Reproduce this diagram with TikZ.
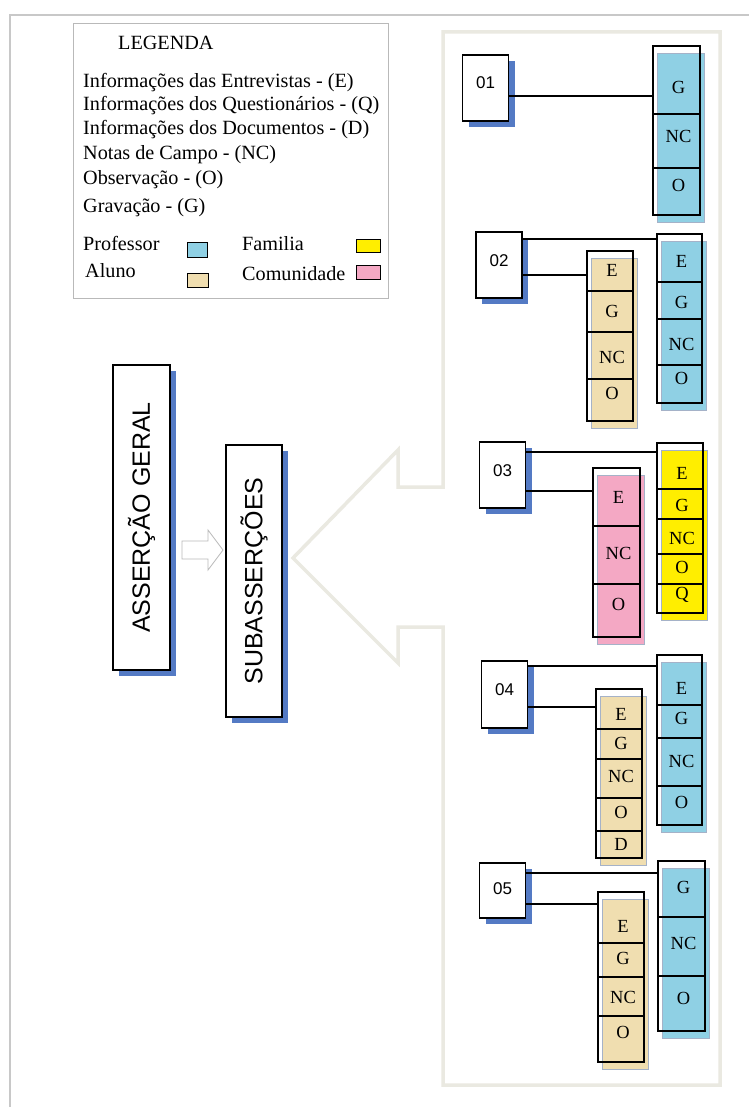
\documentclass[tikz,border=0pt]{standalone}
\usepackage{fontspec}
\setmainfont{Liberation Serif}
\setsansfont{Liberation Sans}
\usetikzlibrary{shadows}
\definecolor{colblue}{RGB}{143,208,228}
\definecolor{colbeige}{RGB}{240,222,176}
\definecolor{colyellow}{RGB}{255,238,0}
\definecolor{colpink}{RGB}{244,168,196}
\definecolor{fillborder}{RGB}{165,178,200}
\definecolor{shadowblue}{RGB}{84,122,196}
\definecolor{framegray}{RGB}{234,233,225}
\definecolor{pagegray}{RGB}{200,200,200}
\definecolor{legendgray}{RGB}{185,185,185}
\definecolor{arrowgray}{RGB}{185,185,185}
\newcommand\colbox[6]{%
  \fill[#6, draw=fillborder, line width=0.8pt] ({#2+4},{#3+7}) rectangle ({#4+4},{#5+7});
  \node[colframe, anchor=north west, minimum width={(#4-#2)*1pt}, minimum height={(#5-#3)*1pt}] (#1) at (#2,#3) {};
}
\begin{document}
\begin{tikzpicture}[x=1pt,y=-1pt,
  colframe/.style={draw=black, line width=1.2pt, inner sep=0pt, outer sep=0pt},
  divider/.style={draw=black, line width=1.2pt},
  lbl/.style={font=\fontsize{18.5}{20}\selectfont, inner sep=0pt, xshift=2pt},
  conn/.style={draw=black, line width=1.2pt},
  shad/.style={drop shadow={shadow xshift=6pt, shadow yshift=-6pt, fill=shadowblue, opacity=1}},
  numbox/.style={draw=black, fill=white, line width=1.1pt, minimum width=46pt, minimum height=66pt,
     inner sep=0pt, outer sep=0pt, font=\sffamily\fontsize{17}{19}\selectfont, text height=12pt, text depth=10pt, shad},
  bigbox/.style={draw=black, fill=white, line width=1.1pt, inner sep=0pt, outer sep=0pt,
     font=\sffamily\fontsize{25}{28}\selectfont, shad},
  legtext/.style={anchor=base west, inner sep=0pt, font=\fontsize{20.2}{23}\selectfont},
  swatch/.style={draw=black, line width=0.9pt, inner sep=0pt, anchor=north west}
]
\useasboundingbox (0,0) rectangle (749,1107);
\fill[white] (0,0) rectangle (749,1107);
% page frame
\draw[pagegray, line width=2.5pt] (10,1107) -- (10,15) -- (749,15);
% big container with arrow
\draw[framegray, line width=3.5pt, line join=miter]
  (443,32) -- (720,32) -- (720,1085) -- (443,1085) -- (443,627) -- (398,627) -- (398,663)
  -- (293,558) -- (398,450) -- (398,487) -- (443,487) -- cycle;
% legend
\node[draw=legendgray, line width=0.8pt, anchor=north west, minimum width=315pt, minimum height=275pt, inner sep=0pt] (leg) at (73,23) {};
\node[legtext] (legt) at (118,49.5) {LEGENDA};
\node[legtext] (lg1) at (83,87.5) {Informações das Entrevistas - (E)};
\node[legtext] (lg2) at (83,110.5) {Informações dos Questionários - (Q)};
\node[legtext] (lg3) at (83,134.5) {Informações dos Documentos - (D)};
\node[legtext] (lg4) at (83,159.5) {Notas de Campo - (NC)};
\node[legtext] (lg5) at (83,184.5) {Observação - (O)};
\node[legtext] (lg6) at (83,212.5) {Gravação - (G)};
\node[legtext] (lgp) at (83,250.5) {Professor};
\node[legtext] (lga) at (85,277.5) {Aluno};
\node[legtext] (lgf) at (242,250.5) {Familia};
\node[legtext] (lgc) at (242,280.5) {Comunidade};
\node[swatch, fill=colblue, minimum width=20pt, minimum height=15pt] (swp) at (187,242) {};
\node[swatch, fill=colbeige, minimum width=21pt, minimum height=14pt] (swa) at (187,273) {};
\node[swatch, fill=colyellow, minimum width=24pt, minimum height=13pt] (swf) at (356,239) {};
\node[swatch, fill=colpink, minimum width=24pt, minimum height=14pt] (swc) at (356,265) {};
% left boxes
\node[bigbox, minimum width=57pt, minimum height=305pt] (ag) at (141.5,517.5) {\rotatebox{90}{ASSERÇÃO GERAL}};
\node[bigbox, minimum width=56pt, minimum height=272pt] (sub) at (254,581) {\rotatebox{90}{SUBASSERÇÕES}};
\draw[arrowgray, fill=white, line width=0.8pt] (182,541) -- (208,541) -- (208,530) -- (223,550)
  -- (208,570) -- (208,559) -- (182,559) -- cycle;
% ---------- group 01
\node[numbox] (b01) at (485.5,88) {01};
\colbox{c01}{653}{46}{700}{215}{colblue}
\foreach \d in {114,168} \draw[divider] (c01.west |- 0,\d) -- (c01.east |- 0,\d);
\foreach \t/\yy in {G/87,NC/136,O/185} \node[lbl] (c01-\yy) at (c01.center |- 0,\yy) {\t};
\draw[conn] (b01.east |- 0,96) -- (c01.west |- 0,96);
% ---------- group 02
\node[numbox] (b02) at (499,265) {02};
\colbox{c02l}{587}{251}{633}{421}{colbeige}
\foreach \d in {291,332,379} \draw[divider] (c02l.west |- 0,\d) -- (c02l.east |- 0,\d);
\foreach \t/\yy in {E/270,G/311,NC/357,O/393} \node[lbl] (c02l-\yy) at (c02l.center |- 0,\yy) {\t};
\colbox{c02r}{657}{234}{702}{403}{colblue}
\foreach \d in {282,319,365} \draw[divider] (c02r.west |- 0,\d) -- (c02r.east |- 0,\d);
\foreach \t/\yy in {E/261,G/302,NC/344,O/378} \node[lbl] (c02r-\yy) at (c02r.center |- 0,\yy) {\t};
\draw[conn] (b02.east |- 0,239) -- (c02r.west |- 0,239);
\draw[conn] (b02.east |- 0,275) -- (c02l.west |- 0,275);
% ---------- group 03
\node[numbox] (b03) at (502.5,475) {03};
\colbox{c03l}{593}{468}{640}{637}{colpink}
\foreach \d in {526,584} \draw[divider] (c03l.west |- 0,\d) -- (c03l.east |- 0,\d);
\foreach \t/\yy in {E/497,NC/553,O/604} \node[lbl] (c03l-\yy) at (c03l.center |- 0,\yy) {\t};
\colbox{c03r}{657}{443}{703}{613}{colyellow}
\foreach \d in {489,519,554,584} \draw[divider] (c03r.west |- 0,\d) -- (c03r.east |- 0,\d);
\foreach \t/\yy in {E/473,G/505,NC/538,O/567,Q/595} \node[lbl] (c03r-\yy) at (c03r.center |- 0,\yy) {\t};
\draw[conn] (b03.east |- 0,452) -- (c03r.west |- 0,452);
\draw[conn] (b03.east |- 0,491) -- (c03l.west |- 0,491);
% ---------- group 04
\node[numbox, minimum height=67pt] (b04) at (504.5,694.5) {04};
\colbox{c04r}{657}{655}{702}{825}{colblue}
\foreach \d in {705,738,786} \draw[divider] (c04r.west |- 0,\d) -- (c04r.east |- 0,\d);
\foreach \t/\yy in {E/688,G/718,NC/761,O/802} \node[lbl] (c04r-\yy) at (c04r.center |- 0,\yy) {\t};
\colbox{c04l}{596}{689}{642}{858}{colbeige}
\foreach \d in {729,759,798,831} \draw[divider] (c04l.west |- 0,\d) -- (c04l.east |- 0,\d);
\foreach \t/\yy in {E/714,G/743,NC/776,O/812,D/844} \node[lbl] (c04l-\yy) at (c04l.center |- 0,\yy) {\t};
\draw[conn] (b04.east |- 0,666) -- (c04r.west |- 0,666);
\draw[conn] (b04.east |- 0,707) -- (c04l.west |- 0,707);
% ---------- group 05
\node[numbox, minimum height=55pt, text depth=4pt] (b05) at (502.5,890.5) {05};
\colbox{c05r}{658}{861}{705}{1031}{colblue}
\foreach \d in {917,976} \draw[divider] (c05r.west |- 0,\d) -- (c05r.east |- 0,\d);
\foreach \t/\yy in {G/887,NC/943,O/998} \node[lbl] (c05r-\yy) at (c05r.center |- 0,\yy) {\t};
\colbox{c05l}{598}{892}{644}{1062}{colbeige}
\foreach \d in {943,977,1016} \draw[divider] (c05l.west |- 0,\d) -- (c05l.east |- 0,\d);
\foreach \t/\yy in {E/926,G/958,NC/997,O/1032} \node[lbl] (c05l-\yy) at (c05l.center |- 0,\yy) {\t};
\draw[conn] (b05.east |- 0,873) -- (c05r.west |- 0,873);
\draw[conn] (b05.east |- 0,904) -- (c05l.west |- 0,904);
\end{tikzpicture}
\end{document}
